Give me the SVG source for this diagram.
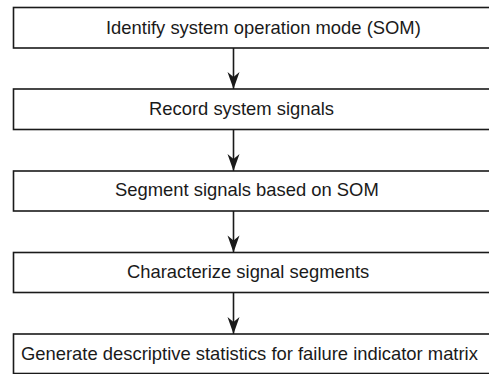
<svg xmlns="http://www.w3.org/2000/svg" width="489" height="374" viewBox="0 0 489 374">
<style>
.box{fill:#fff;stroke:#1a1a1a;stroke-width:1.6}
.lbl{font-family:"Liberation Sans",Arial,sans-serif;font-size:18.4px;fill:#1a1a1a}
.conn{stroke:#1a1a1a;stroke-width:1.6;fill:none}
</style>
<defs>
<marker id="ah" markerUnits="userSpaceOnUse" orient="auto" refX="0" refY="0" markerWidth="20" markerHeight="14" overflow="visible">
<path d="M0,0 L-17,-6 L-12,0 L-17,6 Z" fill="#1a1a1a"/>
</marker>
</defs>
<rect width="489" height="374" fill="#fff"/>
<g id="connectors">
<line class="conn" x1="233.5" y1="48" x2="233.5" y2="89" marker-end="url(#ah)"/>
<line class="conn" x1="233.5" y1="129.5" x2="233.5" y2="171" marker-end="url(#ah)"/>
<line class="conn" x1="233.5" y1="211" x2="233.5" y2="252.5" marker-end="url(#ah)"/>
<line class="conn" x1="233.5" y1="292.5" x2="233.5" y2="334" marker-end="url(#ah)"/>
</g>
<g id="n1"><rect class="box" x="13.5" y="7.5" width="500" height="40.5"/><text class="lbl" x="106" y="33.5">Identify system operation mode (SOM)</text></g>
<g id="n2"><rect class="box" x="13.5" y="89" width="500" height="40.5"/><text class="lbl" x="149" y="115">Record system signals</text></g>
<g id="n3"><rect class="box" x="13.5" y="171" width="500" height="40"/><text class="lbl" x="115" y="196">Segment signals based on SOM</text></g>
<g id="n4"><rect class="box" x="13.5" y="252.5" width="500" height="40"/><text class="lbl" x="127" y="277.5">Characterize signal segments</text></g>
<g id="n5"><rect class="box" x="13.5" y="334" width="500" height="39.5"/><text class="lbl" x="21" y="360">Generate descriptive statistics for failure indicator matrix</text></g>
</svg>
